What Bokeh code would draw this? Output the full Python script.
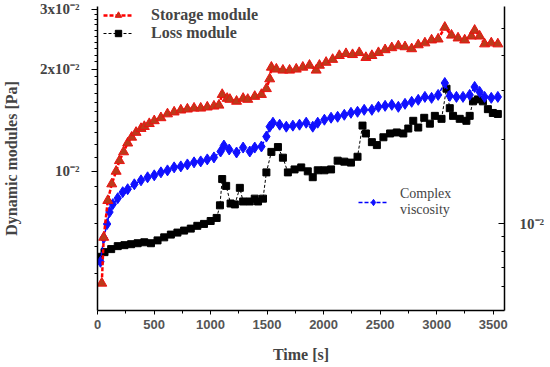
from bokeh.plotting import figure
from bokeh.models import Range1d, LogScale, LogAxis, FixedTicker, Legend, LegendItem
from bokeh.embed import file_html
from bokeh.resources import INLINE

# ---- data ----
time_storage = [38, 55, 91, 126, 165, 194, 231, 267, 302, 341, 385, 414, 458, 502, 561,
                619, 678, 737, 795, 854, 913, 971, 1030, 1074, 1103, 1147, 1171, 1230, 1288, 1329,
                1391, 1450, 1494, 1523, 1538, 1582, 1640, 1699, 1758, 1816, 1875, 1934, 1963, 2022, 2080,
                2139, 2198, 2256, 2315, 2374, 2427, 2485, 2544, 2603, 2661, 2720, 2779, 2837, 2896, 2955,
                3013, 3072, 3131, 3189, 3248, 3307, 3336, 3380, 3424, 3483, 3541]
storage_modulus = [0.00468, 0.00639, 0.00820, 0.00918, 0.01000, 0.01075, 0.01141, 0.01211, 0.01260, 0.01302,
                   0.01337, 0.01355, 0.01382, 0.01409, 0.01438, 0.01476, 0.01495, 0.01515, 0.01525, 0.01535,
                   0.01535, 0.01546, 0.01556, 0.01566, 0.01684, 0.01640, 0.01629, 0.01608, 0.01640, 0.01629,
                   0.01662, 0.01684, 0.01752, 0.01872, 0.02026, 0.02000, 0.01986, 0.01986, 0.02000, 0.02026,
                   0.02053, 0.01986, 0.02053, 0.02094, 0.02136, 0.02193, 0.02222, 0.02207, 0.02237, 0.02164,
                   0.02193, 0.02237, 0.02281, 0.02312, 0.02342, 0.02327, 0.02296, 0.02358, 0.02389, 0.02437,
                   0.02453, 0.02656, 0.02518, 0.02470, 0.02437, 0.02502, 0.02603, 0.02502, 0.02373, 0.02389,
                   0.02373]

time_loss = [18, 62, 121, 179, 238, 297, 355, 414, 473, 531, 590, 649, 707, 766, 825,
             883, 942, 1001, 1054, 1083, 1103, 1138, 1177, 1215, 1259, 1288, 1347, 1391, 1420, 1464,
             1494, 1538, 1596, 1640, 1684, 1743, 1802, 1860, 1904, 1948, 2007, 2066, 2124, 2183, 2242,
             2300, 2344, 2374, 2427, 2471, 2529, 2588, 2647, 2705, 2749, 2793, 2837, 2890, 2940, 2984,
             3043, 3087, 3116, 3145, 3204, 3263, 3292, 3321, 3365, 3409, 3453, 3497, 3541]
loss_modulus = [0.00560, 0.00578, 0.00590, 0.00602, 0.00606, 0.00610, 0.00614, 0.00618, 0.00614, 0.00626,
                0.00639, 0.00651, 0.00660, 0.00669, 0.00678, 0.00691, 0.00700, 0.00714, 0.00729, 0.00794,
                0.00949, 0.00906, 0.00804, 0.00799, 0.00894, 0.00815, 0.00815, 0.00831, 0.00815, 0.00831,
                0.00993, 0.01141, 0.01179, 0.01097, 0.00993, 0.01013, 0.01027, 0.01000, 0.00961, 0.01007,
                0.01007, 0.01013, 0.01075, 0.01068, 0.01061, 0.01104, 0.01364, 0.01293, 0.01219, 0.01195,
                0.01260, 0.01293, 0.01302, 0.01293, 0.01337, 0.01409, 0.01346, 0.01438, 0.01382, 0.01457,
                0.01428, 0.01752, 0.01535, 0.01457, 0.01428, 0.01409, 0.01457, 0.01608, 0.01629, 0.01608,
                0.01525, 0.01486, 0.01476]

time_visc = [26, 55, 85, 106, 135, 179, 223, 267, 326, 385, 443, 502, 561, 619, 678,
             737, 795, 854, 913, 971, 1030, 1089, 1118, 1165, 1230, 1288, 1347, 1391, 1450, 1494,
             1523, 1552, 1611, 1670, 1728, 1787, 1846, 1904, 1948, 2007, 2066, 2124, 2183, 2242, 2300,
             2359, 2427, 2485, 2544, 2603, 2661, 2720, 2779, 2837, 2896, 2955, 3013, 3072, 3116, 3175,
             3233, 3292, 3336, 3380, 3424, 3483, 3541]
complex_viscosity = [0.00733, 0.00892, 0.01000, 0.01103, 0.01177, 0.01236, 0.01299, 0.01331, 0.01386, 0.01432,
                     0.01468, 0.01492, 0.01529, 0.01554, 0.01593, 0.01606, 0.01632, 0.01660, 0.01673, 0.01701,
                     0.01729, 0.01815, 0.01906, 0.01845, 0.01800, 0.01875, 0.01815, 0.01875, 0.01891, 0.02052,
                     0.02226, 0.02300, 0.02263, 0.02226, 0.02245, 0.02263, 0.02300, 0.02226, 0.02300, 0.02357,
                     0.02396, 0.02415, 0.02455, 0.02495, 0.02516, 0.02557, 0.02557, 0.02621, 0.02642, 0.02664,
                     0.02621, 0.02686, 0.02731, 0.02776, 0.02844, 0.02821, 0.02891, 0.03188, 0.02868, 0.02844,
                     0.02844, 0.02891, 0.03086, 0.02963, 0.02844, 0.02821, 0.02844]

x_ticks = [0, 500, 1000, 1500, 2000, 2500, 3000, 3500]
x_minor = [250, 750, 1250, 1750, 2250, 2750, 3250]
left_major = [0.01, 0.02, 0.03]
left_labels = ["10⁻²", "2x10⁻²", "3x10⁻²"]
left_minor = [0.005, 0.006, 0.007, 0.008, 0.009,
              0.011, 0.012, 0.013, 0.014, 0.015, 0.016, 0.017, 0.018, 0.019,
              0.021, 0.022, 0.023, 0.024, 0.025, 0.026, 0.027, 0.028, 0.029]
right_major = [0.01]
right_labels = ["10⁻²"]
right_minor = [0.006, 0.007, 0.008, 0.009, 0.02, 0.03, 0.04, 0.05]

SERIF = "Liberation Serif"

p = figure(width=548, height=365, output_backend="svg", toolbar_location=None,
           x_range=Range1d(0, 3600), y_range=Range1d(0.00389, 0.0306), y_axis_type="log",
           min_border_left=95, min_border_right=44, min_border_top=6, min_border_bottom=53)
p.extra_y_ranges = {"visc": Range1d(0.00491, 0.0598)}
p.extra_y_scales = {"visc": LogScale()}
p.grid.visible = False
p.outline_line_color = None
p.background_fill_color = "white"
p.border_fill_color = "white"

# x axis
xa = p.xaxis[0]
xa.ticker = FixedTicker(ticks=x_ticks, minor_ticks=x_minor)
xa.axis_label = "Time [s]"
xa.axis_label_text_font = SERIF
xa.axis_label_text_font_style = "bold"
xa.axis_label_text_font_size = "16px"
xa.axis_label_standoff = 14
xa.major_label_text_font = "Liberation Sans"
xa.major_label_text_font_style = "bold"
xa.major_label_text_font_size = "13px"
xa.major_label_text_color = "#555555"
xa.major_label_standoff = 5
xa.major_tick_out = 4
xa.major_tick_in = 0
xa.minor_tick_out = 3
xa.minor_tick_in = 0
xa.axis_line_width = 1.5

# left axis
ya = p.yaxis[0]
ya.ticker = FixedTicker(ticks=left_major, minor_ticks=left_minor)
ya.major_label_overrides = dict(zip(left_major, left_labels))
ya.axis_label = "Dynamic modules [Pa]"
ya.axis_label_text_font = SERIF
ya.axis_label_text_font_style = "bold"
ya.axis_label_text_font_size = "16px"
ya.axis_label_standoff = 17
ya.major_label_text_font = SERIF
ya.major_label_text_font_style = "bold"
ya.major_label_text_font_size = "15px"
ya.major_label_standoff = 12
ya.major_tick_out = 6
ya.major_tick_in = 0
ya.minor_tick_out = 3
ya.minor_tick_in = 0
ya.axis_line_width = 1.5

# right axis (complex viscosity)
ra = LogAxis(y_range_name="visc",
             ticker=FixedTicker(ticks=right_major, minor_ticks=right_minor))
ra.major_label_overrides = dict(zip(right_major, right_labels))
ra.major_label_text_font = SERIF
ra.major_label_text_font_style = "bold"
ra.major_label_text_font_size = "15px"
ra.major_label_standoff = 15
ra.major_tick_out = 0
ra.major_tick_in = 6
ra.minor_tick_out = 0
ra.minor_tick_in = 3
ra.axis_line_width = 1.5
p.add_layout(ra, "right")

# series
loss_line = p.line(time_loss, loss_modulus, line_color="black", line_width=1, line_dash="3 2")
loss_pts = p.scatter(time_loss, loss_modulus, marker="square", size=7,
                     fill_color="black", line_color="black")

visc_line = p.line(time_visc, complex_viscosity, y_range_name="visc",
                   line_color="#0000ff", line_width=1.5, line_dash="4 2")
visc_pts = p.scatter(time_visc, complex_viscosity, y_range_name="visc", marker="diamond", size=11,
                     fill_color="#1010ff", line_color="#1010ff")

stor_line = p.line(time_storage, storage_modulus, line_color="#ff0000", line_width=2.5, line_dash="4 2")
stor_pts = p.scatter(time_storage, storage_modulus, marker="triangle", size=10,
                     fill_color="#bc3a1a", line_color="#ee1010")

leg1 = Legend(items=[LegendItem(label="Storage module", renderers=[stor_line, stor_pts]),
                     LegendItem(label="Loss module", renderers=[loss_line, loss_pts])],
              location=(6, 268))
leg2 = Legend(items=[LegendItem(label="Complex\nviscosity", renderers=[visc_line, visc_pts])],
              location=(261, 92))
for lg in (leg1, leg2):
    lg.background_fill_alpha = 0
    lg.border_line_color = None
    lg.padding = 2
    lg.margin = 0
    lg.glyph_width = 30
    lg.glyph_height = 16
    lg.label_height = 16
    lg.label_text_font = SERIF
leg1.spacing = -3
leg2.spacing = 0
leg1.label_text_font_style = "bold"
leg1.label_text_font_size = "16px"
leg1.label_standoff = 18
leg2.label_text_font_size = "14px"
leg2.label_standoff = 12
p.add_layout(leg1, "center")
p.add_layout(leg2, "center")

open("out.html", "w").write(file_html(p, INLINE))
